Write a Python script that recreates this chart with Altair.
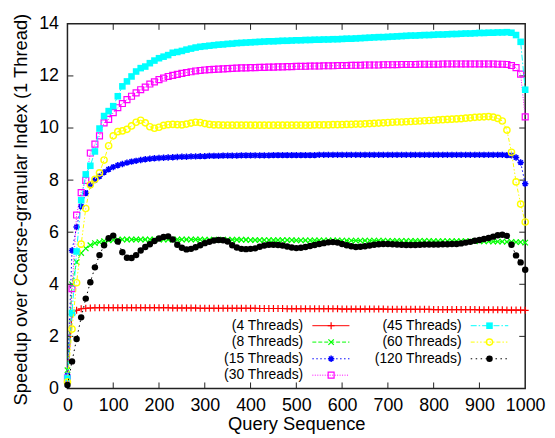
import altair as alt
import pandas as pd

# ---------------- data ----------------
QUERY = list(range(0, 1001, 10))
SERIES = ["(4 Threads)", "(8 Threads)", "(15 Threads)", "(30 Threads)",
          "(45 Threads)", "(60 Threads)", "(120 Threads)"]

T4 = [0.30, 2.85, 3.00, 3.06, 3.08, 3.09, 3.10, 3.10, 3.10, 3.10,
      3.10, 3.10, 3.10, 3.10, 3.10, 3.10, 3.10, 3.10, 3.10, 3.10,
      3.10, 3.10, 3.10, 3.09, 3.09, 3.09, 3.09, 3.09, 3.09, 3.08,
      3.08, 3.08, 3.08, 3.08, 3.08, 3.08, 3.08, 3.08, 3.08, 3.08,
      3.08, 3.08, 3.07, 3.07, 3.07, 3.07, 3.07, 3.07, 3.06, 3.06,
      3.06, 3.06, 3.06, 3.06, 3.06, 3.06, 3.06, 3.06, 3.06, 3.06,
      3.05, 3.05, 3.05, 3.05, 3.05, 3.05, 3.05, 3.05, 3.05, 3.05,
      3.04, 3.04, 3.04, 3.04, 3.04, 3.04, 3.04, 3.04, 3.04, 3.04,
      3.03, 3.03, 3.03, 3.03, 3.03, 3.03, 3.03, 3.03, 3.03, 3.03,
      3.02, 3.02, 3.02, 3.02, 3.02, 3.02, 3.01, 3.01, 3.01, 3.01,
      3.00]

T8 = [0.70, 4.00, 4.85, 5.20, 5.38, 5.50, 5.58, 5.62, 5.66, 5.69,
      5.70, 5.71, 5.72, 5.72, 5.72, 5.72, 5.72, 5.72, 5.72, 5.72,
      5.72, 5.72, 5.72, 5.72, 5.72, 5.72, 5.72, 5.72, 5.72, 5.72,
      5.71, 5.71, 5.71, 5.71, 5.71, 5.71, 5.71, 5.71, 5.71, 5.71,
      5.70, 5.70, 5.70, 5.70, 5.70, 5.70, 5.70, 5.70, 5.70, 5.70,
      5.69, 5.69, 5.69, 5.69, 5.69, 5.69, 5.69, 5.69, 5.69, 5.69,
      5.68, 5.68, 5.68, 5.68, 5.68, 5.68, 5.68, 5.68, 5.68, 5.68,
      5.67, 5.67, 5.67, 5.67, 5.67, 5.67, 5.67, 5.67, 5.67, 5.67,
      5.66, 5.66, 5.66, 5.66, 5.66, 5.66, 5.66, 5.66, 5.66, 5.66,
      5.65, 5.65, 5.65, 5.64, 5.64, 5.64, 5.63, 5.63, 5.62, 5.62,
      5.60]

T15 = [0.50, 5.30, 6.20, 7.00, 7.50, 7.80, 8.00, 8.15, 8.30, 8.42,
       8.50, 8.57, 8.62, 8.67, 8.71, 8.74, 8.77, 8.80, 8.82, 8.84,
       8.85, 8.86, 8.87, 8.88, 8.89, 8.90, 8.90, 8.91, 8.91, 8.92,
       8.92, 8.93, 8.93, 8.93, 8.94, 8.94, 8.94, 8.94, 8.95, 8.95,
       8.95, 8.95, 8.95, 8.95, 8.95, 8.96, 8.96, 8.96, 8.96, 8.96,
       8.96, 8.96, 8.96, 8.96, 8.96, 8.97, 8.97, 8.97, 8.97, 8.97,
       8.97, 8.97, 8.97, 8.97, 8.97, 8.97, 8.97, 8.97, 8.97, 8.97,
       8.97, 8.97, 8.97, 8.97, 8.97, 8.97, 8.97, 8.97, 8.97, 8.97,
       8.97, 8.97, 8.97, 8.97, 8.97, 8.97, 8.97, 8.97, 8.97, 8.97,
       8.97, 8.97, 8.97, 8.97, 8.97, 8.97, 8.96, 8.95, 8.87, 8.68,
       7.86]

T30 = [0.40, 3.83, 6.66, 7.52, 7.99, 9.04, 9.38, 9.70, 10.20, 10.33,
       10.59, 10.78, 10.94, 11.09, 11.22, 11.35, 11.47, 11.57, 11.69, 11.77,
       11.86, 11.92, 11.98, 12.02, 12.06, 12.10, 12.13, 12.16, 12.19, 12.21,
       12.23, 12.24, 12.25, 12.26, 12.27, 12.28, 12.29, 12.30, 12.31, 12.31,
       12.32, 12.32, 12.33, 12.33, 12.34, 12.34, 12.35, 12.35, 12.36, 12.36,
       12.37, 12.37, 12.37, 12.38, 12.38, 12.38, 12.39, 12.39, 12.39, 12.40,
       12.40, 12.40, 12.41, 12.41, 12.41, 12.42, 12.42, 12.42, 12.42, 12.43,
       12.43, 12.43, 12.43, 12.44, 12.44, 12.44, 12.44, 12.45, 12.45, 12.45,
       12.45, 12.45, 12.46, 12.46, 12.46, 12.46, 12.46, 12.46, 12.46, 12.46,
       12.46, 12.46, 12.46, 12.46, 12.45, 12.45, 12.44, 12.40, 12.32, 12.07,
       10.43]

T45 = [0.40, 2.90, 5.26, 7.23, 8.22, 8.55, 9.10, 9.98, 10.46, 10.65,
       10.84, 11.22, 11.60, 11.79, 11.98, 12.17, 12.30, 12.36, 12.49, 12.59,
       12.68, 12.74, 12.80, 12.89, 12.92, 12.96, 13.01, 13.05, 13.09, 13.12,
       13.14, 13.16, 13.18, 13.20, 13.21, 13.23, 13.24, 13.26, 13.27, 13.28,
       13.29, 13.30, 13.31, 13.32, 13.33, 13.33, 13.34, 13.35, 13.35, 13.36,
       13.37, 13.37, 13.38, 13.38, 13.39, 13.39, 13.40, 13.40, 13.41, 13.41,
       13.42, 13.43, 13.43, 13.44, 13.45, 13.46, 13.47, 13.48, 13.49, 13.49,
       13.50, 13.51, 13.52, 13.53, 13.54, 13.55, 13.55, 13.56, 13.57, 13.57,
       13.58, 13.59, 13.59, 13.60, 13.61, 13.61, 13.62, 13.63, 13.63, 13.64,
       13.65, 13.65, 13.66, 13.66, 13.67, 13.67, 13.68, 13.66, 13.57, 13.31,
       11.47]

T60 = [0.25, 2.28, 4.06, 5.54, 6.91, 7.82, 8.03, 8.28, 8.77, 9.32,
       9.70, 9.86, 9.89, 9.95, 10.08, 10.22, 10.30, 10.20, 10.05, 9.99,
       10.03, 10.10, 10.13, 10.14, 10.13, 10.12, 10.15, 10.19, 10.22, 10.21,
       10.17, 10.14, 10.12, 10.12, 10.11, 10.11, 10.11, 10.11, 10.11, 10.11,
       10.11, 10.11, 10.11, 10.11, 10.11, 10.11, 10.11, 10.11, 10.11, 10.11,
       10.11, 10.11, 10.11, 10.11, 10.12, 10.12, 10.12, 10.12, 10.13, 10.13,
       10.13, 10.14, 10.14, 10.15, 10.15, 10.16, 10.17, 10.18, 10.19, 10.20,
       10.21, 10.22, 10.23, 10.23, 10.24, 10.25, 10.26, 10.27, 10.28, 10.29,
       10.30, 10.31, 10.32, 10.33, 10.34, 10.35, 10.36, 10.38, 10.39, 10.41,
       10.42, 10.43, 10.44, 10.42, 10.37, 10.27, 9.92, 9.07, 7.93, 7.08,
       6.39]

T120 = [0.13, 1.04, 1.90, 2.73, 3.45, 4.08, 4.65, 5.12, 5.50, 5.77,
        5.87, 5.64, 5.23, 5.02, 5.01, 5.12, 5.30, 5.43, 5.54, 5.66,
        5.76, 5.82, 5.84, 5.72, 5.52, 5.40, 5.34, 5.36, 5.42, 5.50,
        5.58, 5.63, 5.68, 5.70, 5.69, 5.64, 5.50, 5.41, 5.36, 5.35,
        5.36, 5.38, 5.44, 5.49, 5.52, 5.52, 5.51, 5.49, 5.45, 5.41,
        5.39, 5.40, 5.43, 5.47, 5.51, 5.55, 5.58, 5.61, 5.62, 5.60,
        5.55, 5.50, 5.46, 5.43, 5.44, 5.46, 5.49, 5.52, 5.54, 5.55,
        5.55, 5.54, 5.53, 5.52, 5.51, 5.51, 5.51, 5.52, 5.53, 5.53,
        5.53, 5.53, 5.54, 5.54, 5.55, 5.55, 5.57, 5.60, 5.63, 5.67,
        5.70, 5.74, 5.78, 5.83, 5.88, 5.90, 5.86, 5.52, 5.11, 4.84,
        4.56]

VALUES = [T4, T8, T15, T30, T45, T60, T120]
X_TICKS = [0, 100, 200, 300, 400, 500, 600, 700, 800, 900, 1000]
Y_TICKS = [0, 2, 4, 6, 8, 10, 12, 14]

# ---------------- styles ----------------
FONT = "Liberation Sans"
COLORS = ["#ff0000", "#00ff00", "#0000ff", "#ff00ff", "#00ffff", "#ffff00", "#000000"]
PLUS = "M-1,0L1,0M0,-1L0,1"
CROSS = "M-1,-1L1,1M-1,1L1,-1"
STAR = "M-1,0L1,0M0,-1L0,1M-0.7,-0.7L0.7,0.7M-0.7,0.7L0.7,-0.7"
MARKS = [
    dict(shape=PLUS, filled=False, size=49, strokeWidth=1.2),
    dict(shape=CROSS, filled=False, size=30, strokeWidth=1.2),
    dict(shape=STAR, filled=False, size=42, strokeWidth=1.5),
    dict(shape="square", filled=False, size=36, strokeWidth=1.2),
    dict(shape="square", filled=True, size=44),
    dict(shape="circle", filled=False, size=40, strokeWidth=1.4),
    dict(shape="circle", filled=True, size=42),
]
DASHES = [None, [4, 2], [1.5, 2.5], [1, 1.5], [6, 2, 1.5, 2], [4, 2, 1.5, 2, 1.5, 2], [1.5, 3.5]]

# legend placement (in data units of the axes)
LEG_TEXT_X = [515, 861]
LEG_LINE_X1 = [535, 881]
LEG_LINE_X2 = [616, 963]
LEG_MARK_X = [576, 922]
LEG_ROW_Y = [2.41, 1.78, 1.14, 0.51]

TICK_LEN_X = 13
TICK_LEN_Y = 0.23

XS = alt.Scale(domain=[0, 1000], nice=False, zero=False)
YS = alt.Scale(domain=[0, 14], nice=False, zero=False)
XAXIS = alt.Axis(values=X_TICKS, format="d", title="Query Sequence", ticks=False, tickSize=0,
                 domain=False, grid=False, labelPadding=8, labelFontSize=18,
                 titleFontSize=18.5, titleY=41, titleBaseline="alphabetic",
                 labelFlush=False, labelOverlap=False)
YAXIS = alt.Axis(values=Y_TICKS, format="d",
                 title="Speedup over Coarse-granular Index (1 Thread)",
                 ticks=False, tickSize=0, domain=False, grid=False, labelPadding=9,
                 labelFontSize=18, titleFontSize=18.5, titleX=-41, titleY=187,
                 titleAngle=270, titleAlign="center", titleBaseline="alphabetic",
                 labelFlush=False, labelOverlap=False)


def xenc():
    return alt.X("query:Q", scale=XS, axis=XAXIS)


def yenc():
    return alt.Y("speedup:Q", scale=YS, axis=YAXIS)


rows = []
for name, vals in zip(SERIES, VALUES):
    for q, v in zip(QUERY, vals):
        rows.append({"series": name, "query": q, "speedup": v})
df = pd.DataFrame(rows)

layers = []

# inward ticks on all four sides
inner_y = Y_TICKS[1:-1]
inner_x = X_TICKS[1:-1]
ytick_df = pd.DataFrame(
    [{"query": 0, "query2": TICK_LEN_X, "speedup": y} for y in inner_y]
    + [{"query": 1000 - TICK_LEN_X, "query2": 1000, "speedup": y} for y in inner_y])
xtick_df = pd.DataFrame(
    [{"query": x, "speedup": 0, "speedup2": TICK_LEN_Y} for x in inner_x]
    + [{"query": x, "speedup": 14 - TICK_LEN_Y, "speedup2": 14} for x in inner_x])
layers.append(alt.Chart(ytick_df).mark_rule(color="#222", strokeWidth=1).encode(
    x=xenc(), x2="query2:Q", y=yenc()))
layers.append(alt.Chart(xtick_df).mark_rule(color="#222", strokeWidth=1).encode(
    x=xenc(), y=yenc(), y2="speedup2:Q"))

for i, name in enumerate(SERIES):
    color = COLORS[i]
    mk = MARKS[i]
    line_kw = dict(color=color, strokeWidth=1)
    if DASHES[i]:
        line_kw["strokeDash"] = DASHES[i]
    base = alt.Chart(df).transform_filter(alt.datum.series == name)
    layers.append(base.mark_line(**line_kw).encode(x=xenc(), y=yenc()))
    layers.append(base.mark_point(color=color, opacity=1, **mk).encode(x=xenc(), y=yenc()))

    col = 0 if i < 4 else 1
    row = i if i < 4 else i - 4
    ly = LEG_ROW_Y[row]
    rule_df = pd.DataFrame({"query": [LEG_LINE_X1[col]], "query2": [LEG_LINE_X2[col]], "speedup": [ly]})
    mark_df = pd.DataFrame({"query": [LEG_MARK_X[col]], "speedup": [ly]})
    text_df = pd.DataFrame({"query": [LEG_TEXT_X[col]], "speedup": [ly], "label": [name]})
    layers.append(alt.Chart(rule_df).mark_rule(**line_kw).encode(x=xenc(), x2="query2:Q", y=yenc()))
    layers.append(alt.Chart(mark_df).mark_point(color=color, opacity=1, **mk).encode(x=xenc(), y=yenc()))
    layers.append(alt.Chart(text_df).mark_text(align="right", baseline="middle", fontSize=14,
                                               font=FONT, color="#000").encode(
        x=xenc(), y=yenc(), text="label:N"))

chart = alt.layer(*layers).properties(
    width=462, height=368,
    padding={"left": 60, "top": 14, "right": 22, "bottom": 48},
    autosize=alt.AutoSizeParams(type="none"),
    background="#ffffff",
).configure_view(stroke="#222", strokeWidth=1.5).configure_axis(
    labelFont=FONT, titleFont=FONT, labelColor="#000", titleColor="#000",
    titleFontWeight="normal",
)

chart.save("out.html", embed_options={"renderer": "svg", "actions": False})
